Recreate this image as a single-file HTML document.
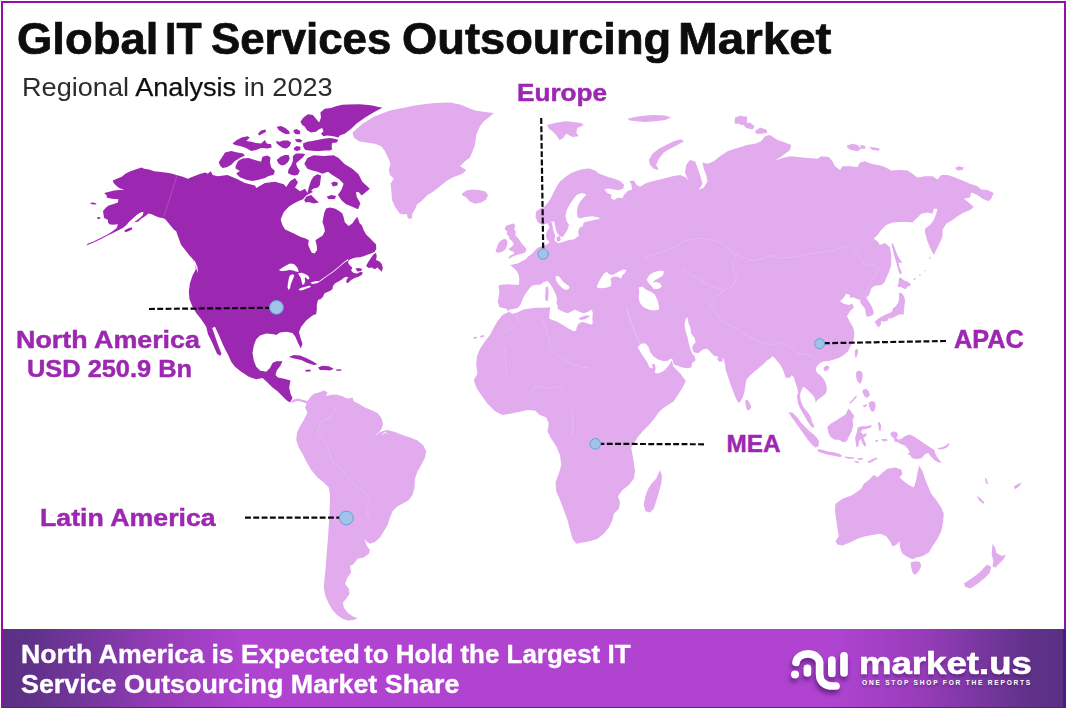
<!DOCTYPE html>
<html><head><meta charset="utf-8">
<style>
html,body{margin:0;padding:0;background:#fff;}
body{width:1068px;height:714px;position:relative;overflow:hidden;font-family:"Liberation Sans",sans-serif;}
.abs{position:absolute;white-space:nowrap;line-height:1;}
#frame{position:absolute;left:1px;top:1px;width:1060.6px;height:703.3px;border:2px solid #9211a5;}
#banner{position:absolute;left:3px;top:629px;width:1060.4px;height:78px;background:linear-gradient(90deg,#5a3084 0%,#5d3187 2%,#7a37a1 9%,#9a3dbc 16%,#b044d1 23%,#b044d1 78%,#9a3dbc 86%,#7a37a1 92%,#5d3187 97.5%,#5a3084 100%);}
.t{font-weight:bold;transform-origin:0 0;}
.ttl{-webkit-text-stroke:0.7px #0d0d0d;}
.lab{-webkit-text-stroke:0.45px #9c27b0;}
.bw,#b2{-webkit-text-stroke:0.35px #fff;}
#lg1{-webkit-text-stroke:0.6px #fff;}
.lab{color:#9c27b0;font-weight:bold;font-size:24px;}
</style></head><body>
<div id="frame"></div>
<div class="abs t ttl" id="tw0" style="left:16.9px;transform:scaleX(1.0420);top:17.5px;font-size:43.6px;color:#0d0d0d;">Global</div><div class="abs t ttl" id="tw1" style="left:164.5px;transform:scaleX(0.9444);top:17.5px;font-size:43.6px;color:#0d0d0d;">IT</div><div class="abs t ttl" id="tw2" style="left:211.4px;transform:scaleX(1.0056);top:17.5px;font-size:43.6px;color:#0d0d0d;">Services</div><div class="abs t ttl" id="tw3" style="left:401.5px;transform:scaleX(1.0392);top:17.5px;font-size:43.6px;color:#0d0d0d;">Outsourcing</div><div class="abs t ttl" id="tw4" style="left:678.4px;transform:scaleX(1.0920);top:17.5px;font-size:43.6px;color:#0d0d0d;">Market</div>
<div class="abs" id="sub" style="left:22px;top:74.5px;font-size:25.7px;color:#222;transform:scaleX(1.056);transform-origin:0 0;"><span style="color:#2c2c2c">Regional</span> <span style="color:#101010;-webkit-text-stroke:0.25px #101010">Analysis</span> <span style="color:#2c2c2c">in 2023</span></div>
<svg id="map" class="abs" style="left:0;top:0" width="1068" height="714" viewBox="0 0 1068 714">
<path fill="#e1abee" d="M352.5,132.5 362.5,123.8 375.0,116.2 390.0,110.5 405.0,107.5 417.5,105.0 435.0,103.0 450.0,102.5 460.0,104.5 467.5,107.5 475.0,110.5 485.0,112.0 493.8,113.0 488.8,117.5 483.8,121.2 480.0,126.2 476.2,135.0 475.0,145.0 472.5,151.2 470.0,157.5 465.0,161.2 460.0,166.2 466.2,170.0 462.5,173.8 452.5,177.5 446.2,181.2 440.0,186.2 433.8,191.2 427.5,195.0 422.5,200.0 420.0,202.2 417.0,204.5 415.5,208.5 412.5,213.5 411.8,218.8 408.8,218.8 407.5,217.5 407.0,214.0 403.8,214.5 399.8,213.5 395.2,207.2 392.0,200.0 391.5,192.5 390.5,183.8 393.8,178.8 390.0,175.0 388.8,170.0 390.5,163.8 388.0,157.5 385.0,151.2 381.2,146.2 375.0,143.8 366.2,142.5 358.8,141.2 353.8,137.5ZM462.0,193.8 466.2,190.5 472.5,189.5 478.8,190.0 485.0,191.2 488.0,195.0 486.2,199.5 481.2,202.5 475.0,203.8 469.5,201.2 466.2,197.5 462.0,195.0ZM291.2,401.2 293.8,399.5 297.5,398.5 302.5,399.8 307.5,401.0 310.0,397.5 313.8,393.8 318.8,392.5 323.8,390.5 327.5,392.5 326.2,396.2 330.0,395.0 336.2,394.5 342.5,396.2 347.5,398.8 352.5,397.5 353.8,401.2 358.8,403.8 365.0,407.5 371.2,410.0 377.5,413.0 381.2,417.5 383.0,423.8 382.0,428.0 379.5,432.0 383.8,430.8 387.5,430.0 395.0,432.0 402.5,435.0 410.0,437.5 417.5,440.5 423.0,445.0 426.2,451.2 425.0,457.5 421.2,465.0 417.5,471.2 415.0,478.8 414.5,487.5 412.5,495.0 408.8,500.0 403.8,503.0 397.5,506.2 392.5,511.2 390.0,517.5 387.5,525.0 383.8,531.2 380.0,537.5 375.0,542.0 370.0,543.8 366.2,541.2 364.5,537.5 366.2,545.0 370.0,550.0 368.8,553.8 363.8,557.5 357.5,558.8 353.8,563.8 350.0,566.2 351.2,572.5 347.5,577.5 345.0,583.8 348.8,588.8 349.5,593.8 346.2,598.8 343.0,602.5 343.8,607.5 347.5,612.5 352.5,616.2 357.5,618.0 353.8,620.0 347.5,620.5 342.5,618.8 337.0,615.0 332.5,610.0 328.8,603.8 325.5,596.2 323.8,587.5 324.5,578.8 325.5,570.0 326.2,560.0 327.0,550.0 328.0,537.5 328.8,525.0 329.5,512.5 330.0,500.0 330.0,495.0 328.8,487.5 323.8,482.5 317.5,477.5 311.2,470.0 306.2,461.2 302.5,453.8 298.8,447.5 296.2,440.0 297.0,432.5 300.0,426.2 303.8,420.0 307.5,412.5 305.0,407.5 306.8,403.8 302.5,402.0 297.5,400.8 293.8,402.0 292.0,403.0ZM508.2,311.4 506.5,308.7 502.0,307.8 499.4,306.9 497.6,301.6 498.5,298.0 499.4,291.8 498.5,285.6 501.1,284.7 507.4,284.2 513.6,284.7 518.9,284.7 519.3,279.5 518.8,275.5 517.3,272.0 515.3,269.5 512.7,266.9 510.2,264.9 513.2,264.4 517.3,263.4 519.8,262.4 522.3,260.9 525.3,259.4 528.4,256.3 531.4,254.3 534.4,251.3 536.9,248.3 540.0,246.8 543.0,245.3 545.5,245.3 548.0,243.7 549.5,242.2 548.0,240.7 546.5,238.2 546.0,234.7 547.0,231.1 548.5,229.1 549.5,227.1 547.6,223.2 542.3,224.9 537.8,222.3 535.5,216.9 536.0,211.6 539.6,208.9 544.9,206.3 548.5,201.8 551.2,197.4 553.8,192.0 556.5,186.7 560.1,181.3 565.4,176.9 570.7,173.3 577.0,170.7 583.2,168.9 589.4,168.5 595.6,170.7 598.3,173.3 602.8,175.1 608.1,176.9 614.3,178.7 620.5,181.3 624.1,184.9 623.2,188.5 618.8,190.2 613.4,189.4 608.1,188.5 604.5,189.4 607.2,192.9 611.6,194.7 610.8,198.2 614.3,200.0 617.9,197.4 622.3,198.2 624.1,194.7 627.7,191.1 632.1,189.4 631.2,184.0 629.4,181.3 633.9,180.5 636.6,184.9 640.1,186.7 646.3,183.1 652.6,181.3 659.7,179.6 666.8,177.8 672.5,176.2 680.0,175.0 686.2,177.5 688.8,181.2 685.0,172.5 686.2,165.0 690.0,160.0 695.0,161.2 697.5,167.5 700.0,175.0 702.5,183.8 698.8,190.0 703.8,187.5 707.5,181.2 706.2,175.0 703.8,168.8 702.5,162.5 707.5,163.8 713.8,161.2 720.0,156.2 727.5,151.2 735.0,148.8 747.0,145.0 755.0,143.8 761.2,141.2 765.0,136.2 770.0,135.0 777.5,140.0 785.0,142.5 791.2,145.0 790.0,150.0 785.0,153.8 780.0,157.5 775.0,160.5 782.5,158.0 790.0,156.2 797.5,157.0 807.5,158.0 817.5,158.8 821.2,156.2 828.8,157.0 832.5,161.2 835.0,166.2 840.0,170.0 842.5,166.2 850.0,166.2 857.5,167.0 860.0,162.5 865.0,161.2 871.2,163.8 880.0,165.5 885.0,167.0 891.2,170.5 900.0,170.0 907.5,170.5 912.5,173.8 917.5,177.5 925.0,176.2 932.5,176.2 937.5,179.5 941.2,175.0 947.5,175.0 955.0,177.5 962.5,180.5 970.0,183.8 977.5,186.2 981.2,189.5 987.5,190.0 993.8,193.0 991.2,198.8 988.8,201.2 982.5,198.8 977.5,195.0 971.2,192.5 970.0,197.5 963.8,198.8 968.8,202.5 973.8,207.0 970.0,210.0 963.8,212.5 957.5,216.2 952.5,220.0 946.2,223.8 942.5,230.0 942.5,236.2 940.0,242.5 936.2,250.0 933.8,255.0 930.0,247.5 927.0,240.0 925.0,232.5 925.0,228.8 930.0,225.0 933.8,220.0 936.2,213.8 937.5,208.8 933.8,208.8 932.5,213.8 927.5,212.5 921.2,213.8 916.2,218.8 912.5,222.5 907.5,222.0 900.0,222.0 892.5,222.5 886.2,225.0 881.2,230.0 877.5,235.0 873.8,238.8 877.5,241.2 880.0,245.0 885.0,243.0 890.0,247.5 891.2,255.0 891.2,265.0 888.8,272.5 886.2,278.0 884.3,282.4 881.2,284.9 877.4,285.5 874.3,286.1 871.2,288.6 870.0,292.4 868.7,295.5 866.2,297.3 868.7,301.7 871.2,305.4 873.1,309.8 873.7,314.2 870.6,316.0 866.8,316.7 865.6,312.9 865.0,308.6 862.5,305.4 860.6,303.0 860.0,299.8 857.5,299.2 855.0,298.0 852.5,297.3 850.0,298.0 850.0,295.0 846.2,293.8 843.8,297.5 840.0,301.2 843.8,303.8 848.8,305.0 852.5,303.8 853.8,307.5 850.0,311.2 847.0,316.2 849.5,321.2 852.5,326.2 854.5,332.5 853.8,338.8 851.2,345.0 848.0,351.2 843.8,355.0 838.8,358.0 832.5,360.0 827.5,361.2 823.8,361.2 820.0,363.1 816.9,366.2 815.6,369.4 816.9,372.5 820.0,375.0 822.5,377.5 825.0,381.2 826.2,385.0 826.9,389.4 825.6,393.8 822.5,396.2 820.0,398.1 817.5,400.0 815.6,402.5 815.0,398.8 813.1,395.6 810.6,393.1 808.1,390.6 805.6,388.1 803.1,386.9 801.9,389.4 800.6,392.5 800.0,396.2 800.6,400.0 801.9,403.8 803.8,407.5 806.9,411.2 809.4,414.4 811.2,418.1 811.9,421.9 813.8,425.0 814.4,427.5 812.5,427.5 810.0,425.0 807.5,421.2 805.0,416.9 802.5,412.5 800.0,408.1 798.1,403.8 797.5,400.0 796.9,396.2 798.1,392.5 797.5,388.8 796.2,385.0 795.0,381.2 793.8,377.5 791.9,375.0 790.6,376.9 788.1,378.1 785.6,377.5 784.4,373.8 783.1,370.0 781.2,366.2 778.8,363.1 776.2,360.0 774.4,357.5 772.5,356.2 770.0,358.8 766.9,360.6 763.8,363.8 760.0,366.9 755.2,371.1 749.9,375.6 746.3,380.0 745.4,385.4 744.5,391.6 742.8,396.9 741.0,400.5 738.8,403.2 736.5,399.6 733.9,393.4 731.2,386.3 728.5,378.2 725.9,370.2 724.1,363.1 725.9,371.0 725.0,363.9 723.2,357.6 722.3,361.2 719.6,362.1 717.0,358.9 718.7,356.7 714.3,355.9 710.7,352.3 707.2,348.7 702.7,349.6 698.3,353.2 693.8,352.3 692.1,348.7 692.9,345.2 695.6,342.5 694.7,338.1 691.2,333.6 690.3,327.4 688.5,322.9 687.6,317.6 685.8,318.5 684.4,324.7 685.5,330.9 687.6,337.2 688.5,342.5 690.3,348.7 692.1,353.2 694.7,356.7 695.6,360.3 692.1,363.0 691.2,367.4 687.6,368.3 682.3,367.4 676.9,365.6 673.4,363.9 672.5,359.4 670.7,358.5 668.0,360.7 663.6,361.2 658.2,359.4 653.8,356.7 650.2,352.3 648.5,347.0 645.8,343.4 641.3,343.4 637.8,347.0 640.5,352.3 644.0,357.6 647.6,363.0 649.4,367.4 652.9,368.3 652.0,363.9 654.7,363.9 655.6,368.3 654.7,372.8 658.2,373.6 663.6,371.0 667.1,367.4 669.8,363.9 671.6,360.3 673.4,366.7 680.5,373.8 685.8,380.9 682.3,388.0 677.8,395.2 673.4,401.4 668.0,404.9 662.7,408.5 658.2,412.9 653.8,419.2 648.5,425.4 643.1,430.7 637.8,437.0 631.2,447.5 632.5,455.0 633.8,462.5 635.0,471.2 633.8,478.8 628.8,485.0 622.5,490.0 618.0,496.2 620.0,502.5 618.8,508.8 613.8,513.8 612.5,520.0 608.8,527.5 603.8,533.8 597.5,538.8 590.0,541.2 582.5,542.5 576.2,543.8 572.5,538.8 570.0,530.0 567.5,520.0 563.8,510.0 560.0,500.0 556.2,491.2 555.5,482.5 558.8,473.8 561.2,465.0 560.0,455.0 556.2,446.2 551.2,438.8 547.5,431.2 548.8,423.8 546.2,417.5 540.0,415.0 535.0,410.5 527.5,410.0 518.8,412.0 510.0,413.8 502.5,415.0 495.0,411.2 487.5,403.8 481.2,395.0 476.2,387.5 473.8,380.0 477.5,373.8 476.2,365.0 477.0,356.2 480.0,348.8 485.0,341.2 490.0,335.0 493.8,327.5 497.5,321.2 502.5,315.0 507.5,312.5ZM504.7,228.1 506.7,225.6 509.7,224.6 513.7,223.6 515.3,225.6 514.2,229.1 515.8,232.1 515.3,235.2 518.3,238.2 520.8,242.2 523.3,245.3 525.8,248.3 526.3,250.3 524.8,252.8 521.3,253.8 517.3,254.8 513.2,256.3 509.7,258.4 508.2,257.9 510.7,255.3 514.2,253.8 513.7,251.8 510.2,250.8 508.7,248.8 511.7,246.8 513.7,244.2 512.2,241.2 509.7,239.2 508.7,236.2 506.7,234.2 507.2,231.1 505.2,230.1ZM495.6,250.8 497.1,247.3 498.1,243.7 500.6,240.7 504.2,238.7 506.7,239.7 507.7,242.7 506.7,246.3 505.2,249.8 502.1,251.8 498.6,252.8 496.1,252.3ZM547.0,125.0 555.0,123.0 565.0,121.2 573.8,122.0 581.2,123.0 583.8,125.0 577.5,128.0 576.2,132.5 578.8,136.2 572.5,137.0 566.2,133.8 562.5,138.8 559.5,140.0 556.2,135.0 552.5,131.2 548.8,128.8ZM627.5,118.8 635.0,117.0 645.0,115.5 655.0,115.0 665.0,115.5 671.2,117.5 665.0,120.0 655.0,121.2 645.0,122.0 636.2,121.2 630.0,120.5ZM648.8,160.0 652.5,153.8 658.8,148.8 666.2,145.0 673.8,141.2 681.2,139.2 683.8,141.2 677.5,145.0 670.0,148.8 663.8,152.5 658.8,158.8 656.2,165.0 658.8,170.0 653.8,168.8 650.0,165.0ZM735.0,117.5 741.2,115.5 746.2,118.8 743.8,122.5 737.5,123.8 735.0,123.8ZM742.5,123.8 750.0,122.5 754.5,126.2 752.5,129.5 746.2,128.0ZM755.0,131.2 760.0,127.5 766.2,129.5 767.5,132.5 761.2,133.8 756.2,133.8ZM733.8,121.2 740.0,117.0 747.0,116.2 747.0,123.8 741.2,125.0ZM847.0,145.5 852.5,143.8 857.5,145.0 861.2,148.8 857.5,151.2 851.2,150.0 847.5,148.0ZM860.0,145.0 865.0,145.8 865.5,148.8 861.2,148.8ZM868.8,147.0 875.0,147.5 880.0,148.8 878.8,150.8 872.5,150.0ZM955.0,168.0 958.8,166.2 963.8,167.5 962.5,170.0 957.5,170.5ZM891.8,242.5 893.6,245.0 895.5,250.0 897.4,255.0 899.9,259.3 902.4,263.1 900.5,263.1 898.6,261.8 899.3,266.8 901.1,270.5 901.7,273.7 899.9,274.3 898.6,271.2 897.4,266.8 896.1,261.8 894.3,256.2 893.0,250.6 891.8,246.2ZM899.3,277.4 901.1,278.0 904.2,280.5 908.0,281.8 911.1,284.3 909.9,286.1 907.4,286.7 905.5,289.2 903.0,288.0 900.5,286.7 898.6,287.4 897.4,285.5 898.6,283.0 898.9,279.9ZM899.3,292.6 902.1,293.6 904.2,296.7 905.1,301.1 904.4,306.1 903.9,311.1 903.6,314.8 901.1,314.2 898.6,314.8 894.9,316.7 891.1,318.3 887.4,318.8 883.7,320.4 879.9,322.3 876.8,324.0 874.3,322.3 876.8,319.8 880.5,317.3 884.9,314.8 889.9,312.9 892.4,311.1 893.0,307.9 895.5,306.7 898.0,303.0 899.3,298.6 898.9,295.5ZM929.8,257.2 931.0,257.7 929.8,258.9 928.8,258.4ZM924.8,269.9 925.8,270.4 924.8,271.4 924.1,270.9ZM919.8,274.3 921.1,274.9 919.8,275.9 919.0,275.1ZM914.8,278.0 916.1,278.6 914.6,280.1 913.6,279.3ZM876.2,320.5 880.0,319.5 881.2,323.8 878.8,327.5 876.2,325.0ZM882.5,319.2 888.0,318.0 888.0,320.5 883.0,321.8ZM823.8,367.5 826.2,365.6 828.8,366.2 829.4,368.1 827.5,370.6 825.0,371.2 823.5,369.8ZM854.8,350.6 856.5,348.8 858.1,350.0 857.5,354.4 856.0,358.1 854.8,355.6ZM856.2,371.9 859.4,370.6 861.9,371.9 862.8,375.6 861.9,380.0 860.6,383.8 858.8,383.1 856.9,380.0 856.0,376.2ZM862.5,390.0 866.2,388.8 868.8,391.2 870.0,395.0 867.5,398.1 864.4,396.2 862.8,393.1ZM849.4,403.1 852.5,399.4 856.2,395.6 856.9,396.9 853.1,401.0 850.2,404.0ZM788.4,411.9 792.6,412.7 796.9,416.9 801.1,422.8 805.3,427.0 809.5,431.2 813.7,434.6 817.1,438.0 819.1,441.4 818.4,446.4 815.4,447.6 812.0,444.7 807.8,439.7 803.6,433.8 799.4,427.9 795.2,422.0 791.5,416.9ZM827.2,427.0 830.6,423.7 836.5,420.3 841.5,416.9 845.7,414.4 848.3,408.5 850.8,411.0 852.5,413.5 854.2,416.1 852.5,420.3 853.3,425.3 851.6,431.2 849.1,436.3 846.6,441.4 843.2,442.2 839.0,439.7 834.8,439.7 830.6,437.1 828.5,432.9ZM857.5,427.9 860.9,426.2 866.0,426.2 871.9,425.0 871.0,427.4 866.8,428.7 862.6,429.6 860.6,432.1 863.4,434.6 866.8,432.9 866.0,436.3 863.4,438.0 865.1,442.2 866.3,445.6 864.3,446.4 862.3,443.0 860.6,438.8 858.9,441.4 858.4,446.4 856.2,446.9 855.8,442.2 855.0,438.0 856.7,432.9ZM817.4,449.3 822.1,449.8 828.0,451.5 833.9,452.3 839.8,454.0 842.4,456.0 839.8,457.0 833.9,455.7 828.0,454.8 822.1,453.1 817.9,451.5ZM844.9,456.5 849.9,457.0 854.2,457.4 853.8,458.7 849.1,458.7 845.4,458.0ZM857.5,458.2 862.6,457.7 862.9,459.4 858.4,459.9ZM867.6,461.6 872.7,459.0 876.9,457.4 877.4,458.7 873.5,461.1 869.0,463.3ZM854.2,460.7 858.4,461.6 859.2,463.3 855.8,462.8ZM877.8,422.8 879.4,422.0 881.1,425.3 880.8,430.4 879.4,431.2 878.6,427.0ZM875.2,440.2 877.8,439.7 878.1,441.4 875.7,441.9ZM881.1,439.2 886.2,438.8 887.9,440.5 883.7,441.4ZM890.4,432.9 893.8,431.2 897.1,432.4 898.0,435.5 896.3,437.5 898.0,439.7 901.4,438.8 904.7,436.3 909.8,434.6 914.8,437.1 919.9,440.5 925.0,443.9 930.0,447.3 934.2,449.8 935.1,453.1 936.8,456.5 939.3,459.9 941.8,462.4 938.4,462.4 934.2,459.9 930.9,456.5 928.3,453.1 925.0,454.0 921.6,458.2 916.5,459.0 912.3,458.2 909.8,454.8 907.3,454.8 909.8,452.3 908.1,448.9 904.7,445.6 900.5,443.9 898.0,442.2 894.6,441.4 893.8,438.0 891.2,436.3ZM937.6,448.1 941.8,447.6 946.0,445.6 948.5,443.0 949.4,444.7 946.9,447.6 942.6,449.3 938.4,449.3ZM868.5,402.6 871.9,400.9 875.2,402.6 875.7,406.8 874.4,411.0 871.9,411.9 870.2,409.3 869.0,406.0ZM862.6,406.0 866.0,404.3 867.6,405.5 864.3,407.6ZM835.5,503.8 842.5,498.8 852.5,495.0 861.2,488.8 863.8,483.8 868.8,480.0 873.8,475.0 877.5,477.5 882.5,472.5 887.5,468.8 895.0,467.5 901.2,469.5 902.5,473.8 899.5,477.5 903.8,481.2 908.8,485.0 913.8,487.5 916.2,480.0 917.5,472.5 919.2,465.5 922.5,471.2 925.0,478.8 928.0,486.2 931.2,493.8 936.2,500.0 941.2,507.5 943.8,513.8 943.0,522.5 941.2,531.2 937.5,538.8 932.5,546.2 928.8,552.5 922.5,556.2 916.2,557.5 912.5,559.2 907.5,557.0 902.5,553.8 900.0,547.5 899.5,541.2 896.2,545.0 892.5,546.2 890.0,541.2 886.2,536.2 880.0,533.8 872.5,535.0 865.0,536.2 857.5,538.8 850.0,542.5 842.5,545.5 837.5,544.5 835.5,541.2 838.8,536.2 837.5,528.8 836.2,520.0 835.0,511.2ZM910.5,562.5 915.0,561.2 920.0,562.0 921.2,566.2 918.8,571.2 915.0,575.0 912.5,572.5 911.2,567.5ZM992.5,543.7 995.2,547.7 996.5,553.0 1001.3,555.7 1005.8,554.9 1003.1,559.7 999.1,563.7 995.2,567.7 992.5,566.3 993.3,561.0 991.7,554.4ZM987.2,564.5 991.2,567.1 989.6,573.0 984.0,578.8 977.3,584.1 970.4,588.4 965.1,586.8 964.0,583.6 969.9,579.6 975.7,575.6 981.1,570.9 984.5,567.1ZM976.5,495.3 980.5,498.5 984.5,502.5 983.2,503.8 979.2,500.6ZM1013.8,486.5 1017.8,483.9 1021.8,482.6 1019.1,486.5 1015.1,489.2ZM985.3,477.2 986.9,479.4 988.0,483.9 986.4,483.9 985.3,480.4ZM473.2,337.5 476.2,336.5 477.1,337.9 474.3,339.0ZM479.8,336.1 483.9,335.0 484.6,336.5 480.7,337.5ZM745.4,400.5 747.2,399.6 749.9,403.2 751.3,406.7 749.9,409.7 747.2,410.3 746.0,406.7 745.4,403.2ZM643.8,505.0 645.0,497.5 647.5,490.0 651.2,483.8 656.2,478.8 660.0,470.0 662.0,476.2 661.2,483.8 658.8,492.5 656.2,501.2 653.8,508.8 650.0,512.5 645.5,511.2Z"/>
<path fill="#9c27b0" d="M112.9,180.6 116.7,178.7 121.7,176.8 125.4,173.7 130.4,171.2 135.4,169.4 141.6,167.5 144.1,168.7 149.1,169.4 154.1,171.2 159.1,171.8 165.3,172.5 171.5,173.5 177.2,175.2 182.8,176.8 187.8,178.7 192.7,176.8 199.0,174.3 205.2,172.5 207.7,173.7 210.8,171.2 212.7,175.0 217.7,176.2 227.5,175.0 237.5,179.2 245.0,183.0 255.0,185.5 256.2,188.0 265.0,183.0 275.0,181.8 283.8,184.2 286.2,187.0 290.0,181.2 295.0,178.0 298.0,182.5 295.0,187.5 300.0,191.2 305.0,188.8 307.5,193.0 308.7,187.4 311.1,180.5 313.6,176.4 317.4,174.3 321.1,175.6 320.5,180.5 319.9,184.9 318.0,187.4 313.6,188.4 311.1,190.5 313.0,192.1 309.9,193.6 306.2,195.5 303.0,199.3 298.7,201.1 293.7,203.4 288.7,206.7 283.7,212.3 281.2,218.0 280.7,219.8 282.5,225.2 285.1,229.6 289.6,231.4 294.9,234.0 300.2,236.7 305.6,238.5 308.8,240.3 308.2,244.7 310.0,249.2 311.8,252.7 314.5,253.6 317.1,250.1 316.6,244.7 315.4,240.3 318.0,238.5 322.5,235.8 324.8,231.4 324.3,226.9 322.5,222.5 323.4,217.1 324.3,212.7 326.1,208.6 329.9,207.6 334.8,208.6 339.2,211.1 342.3,213.6 343.6,217.3 344.8,222.3 348.6,226.1 352.3,223.6 354.8,219.8 357.3,216.7 359.8,223.4 361.7,225.0 363.6,230.0 366.1,234.4 369.8,238.1 372.9,241.2 376.0,244.3 376.3,248.7 374.8,251.8 371.0,253.4 367.3,254.7 363.6,256.2 359.8,257.2 356.1,257.4 352.3,258.4 349.2,259.9 348.0,262.4 349.9,265.5 352.3,267.4 351.1,270.5 353.6,273.0 357.3,273.6 360.4,271.8 362.9,272.4 361.7,274.9 358.6,276.7 354.8,278.0 351.1,279.9 348.0,283.0 346.1,282.4 346.7,279.2 348.6,277.4 346.1,276.7 343.6,278.0 341.1,279.9 338.0,281.7 334.9,283.6 333.0,286.1 332.4,289.2 329.9,291.1 326.8,292.3 324.3,293.6 323.0,296.7 320.5,299.2 318.1,299.8 316.8,304.8 316.8,309.8 316.2,314.0 312.5,315.5 306.2,320.5 301.2,326.8 299.0,332.0 300.5,338.0 302.5,343.8 300.8,348.5 298.0,343.0 295.5,337.0 292.5,333.0 286.2,331.8 280.0,332.5 276.2,335.0 273.8,334.2 266.2,333.5 260.0,335.5 256.2,339.2 253.8,345.5 252.5,353.0 253.8,360.5 256.2,366.8 260.0,370.5 266.2,371.8 270.0,368.0 272.5,363.0 276.2,361.2 282.5,361.2 280.5,365.5 276.8,370.5 275.5,375.0 278.0,377.5 284.2,378.8 290.5,380.5 289.2,387.5 290.5,393.8 292.5,398.0 290.0,402.5 286.2,400.0 282.5,396.2 277.5,391.2 272.5,387.5 267.5,382.5 262.5,378.0 256.2,379.2 248.8,376.8 241.2,371.8 235.0,366.8 231.2,361.8 228.5,355.5 225.5,350.0 222.5,343.8 218.8,335.0 215.0,326.8 212.2,328.0 214.2,333.8 216.5,340.5 219.0,347.5 221.5,353.8 220.0,355.8 217.0,353.8 214.0,346.8 211.2,340.5 208.0,334.2 206.2,326.8 201.2,319.2 196.2,313.0 192.5,306.8 189.5,299.2 188.8,291.8 190.0,283.0 192.5,275.5 195.8,269.2 193.8,261.8 191.2,255.5 187.5,248.0 185.0,240.0 198.0,273.0 197.5,267.5 195.0,261.2 190.0,256.2 186.2,251.2 181.2,245.0 178.8,238.8 176.2,231.2 174.0,229.8 170.9,226.1 167.8,222.3 165.3,219.2 162.8,218.0 159.1,217.4 155.3,216.1 151.6,214.2 148.5,213.6 145.4,216.1 141.6,218.6 137.9,221.7 134.1,222.3 136.6,220.5 140.4,217.4 142.9,214.9 143.5,211.7 140.4,212.4 136.6,214.9 132.9,218.6 129.1,221.7 126.7,224.8 122.9,228.0 117.9,230.4 112.9,232.9 106.7,236.1 100.5,239.2 94.2,242.3 88.0,244.8 86.1,245.8 88.0,243.5 93.0,241.7 98.0,239.2 103.0,236.7 108.0,234.2 112.9,231.1 116.7,228.0 117.9,224.2 112.9,224.8 109.2,224.2 108.0,222.3 108.0,219.9 104.2,218.0 103.6,214.9 103.0,211.1 105.5,208.0 108.6,205.5 112.9,204.3 117.9,202.4 118.5,199.3 111.7,198.7 106.7,197.4 106.7,195.5 104.2,193.0 109.2,191.8 114.2,190.5 119.2,189.9 124.2,189.9 119.2,188.1 116.1,185.6 113.6,183.1ZM124.2,230.4 127.9,228.6 131.6,227.3 132.3,229.2 129.1,231.1 125.4,232.3ZM89.9,203.0 93.0,202.4 96.7,203.6 95.5,204.6 91.7,204.3ZM96.7,217.6 99.8,217.1 100.5,218.6 98.0,219.2ZM218.7,162.3 221.9,157.4 225.0,152.4 231.2,151.1 237.4,152.4 243.1,153.6 244.9,155.5 239.9,158.0 235.0,161.1 231.2,164.8 226.8,167.3 222.5,168.0 220.0,165.5ZM235.6,166.1 238.1,161.1 242.4,158.6 248.7,158.0 254.9,159.9 261.1,161.7 262.4,156.7 267.4,155.5 270.5,157.4 269.9,162.3 271.1,167.3 274.9,171.1 273.6,174.8 268.6,176.1 264.9,177.9 258.6,179.8 252.4,181.0 246.2,179.8 239.9,177.3 236.2,173.6 239.9,171.1 235.6,168.6ZM232.5,143.6 236.8,139.9 241.8,137.4 247.4,136.2 249.9,137.4 246.2,141.1 251.2,141.8 256.1,143.0 261.1,143.6 264.9,139.9 266.7,143.6 271.1,144.3 271.7,147.4 267.4,148.6 261.1,148.0 256.1,149.9 251.2,151.1 246.2,148.0 239.9,146.1 235.0,144.9ZM258.0,133.7 261.1,130.5 265.5,129.6 266.1,131.8 262.4,133.7 259.3,135.5ZM276.7,126.8 281.1,125.9 285.4,128.1 289.2,131.2 289.8,133.7 286.1,134.3 282.3,132.4 278.6,129.9ZM293.6,129.9 296.7,128.9 300.4,131.2 299.8,134.3 296.0,134.3 293.8,132.4ZM276.1,141.1 279.8,141.8 283.0,140.5 287.9,140.5 291.1,142.4 289.8,146.1 286.7,148.6 283.0,148.0 279.8,146.1 276.7,143.6ZM294.8,139.3 299.8,138.9 302.3,140.5 301.0,142.4 296.7,142.1ZM293.8,148.0 296.7,145.9 300.4,146.8 300.4,149.9 296.7,150.9 294.2,149.9ZM300.4,121.8 303.5,117.5 307.9,114.3 312.9,115.0 316.0,118.7 319.1,122.4 321.0,117.5 320.4,112.5 324.7,108.7 331.0,108.1 335.9,106.2 342.2,104.7 348.0,104.4 360.1,104.3 370.8,105.3 382.4,107.8 374.3,111.9 365.5,117.2 356.6,123.5 351.2,128.8 344.7,133.7 339.7,135.5 338.4,137.4 333.5,136.2 327.2,135.5 323.5,136.2 321.0,133.7 323.5,131.2 322.2,128.1 319.1,129.3 316.0,131.8 311.0,132.4 307.3,130.5 304.8,126.8 302.3,124.9ZM302.9,143.6 307.3,141.8 312.3,141.1 317.2,139.9 323.5,138.7 329.7,138.0 334.7,138.7 338.4,139.9 336.6,142.4 332.2,143.0 331.6,146.1 332.2,149.3 329.7,150.5 324.7,150.5 319.7,151.1 314.8,151.1 309.8,150.5 305.4,149.9 303.5,147.4ZM276.7,159.9 280.5,156.7 284.8,154.9 288.6,154.9 289.8,158.6 287.9,162.3 284.8,164.8 281.7,165.5 278.6,163.6ZM292.9,156.1 296.0,153.6 302.3,153.4 305.4,154.2 302.3,158.0 298.5,161.1 296.0,163.6 297.3,167.3 299.8,171.1 297.9,174.8 294.8,175.4 291.1,174.8 287.9,172.9 288.6,169.2 291.1,165.5 292.9,161.1ZM304.3,163.7 307.4,158.1 313.6,155.2 323.6,156.0 333.6,155.2 338.6,158.1 344.8,164.3 352.3,168.7 358.5,174.3 362.3,181.8 369.8,188.7 364.8,193.0 361.6,195.5 359.2,192.4 356.0,191.8 356.7,196.8 360.4,203.6 357.9,209.2 352.3,206.7 346.1,204.2 341.7,200.5 338.0,194.9 341.7,189.3 343.6,183.7 339.2,179.3 332.3,174.9 328.0,171.8 322.4,173.7 317.4,171.8 312.4,170.6 307.4,168.7ZM331.1,183.0 334.2,181.4 338.0,182.7 337.3,185.5 333.0,186.4ZM326.7,196.8 331.1,195.1 336.1,196.1 334.8,198.9 328.6,199.3ZM306.4,196.6 311.1,195.1 316.1,199.9 318.9,202.4 313.6,203.4 308.7,202.1 305.4,202.4 304.2,199.9ZM366.1,266.1 367.9,262.4 370.4,258.7 372.9,254.9 376.0,252.7 376.7,256.2 376.0,259.9 379.2,261.2 381.6,263.7 382.9,268.0 381.6,271.8 379.2,269.3 377.3,267.4 374.8,269.3 371.7,267.4 368.6,268.0ZM355.5,268.6 358.6,268.0 362.3,268.9 361.1,270.9 357.3,271.4ZM288.8,357.0 293.8,355.0 300.0,355.5 306.2,358.0 312.5,361.2 317.5,364.2 313.8,365.0 307.5,363.0 301.2,360.0 295.0,358.8ZM318.0,367.5 322.5,365.8 328.8,366.2 333.8,368.8 330.0,370.5 325.0,370.0 320.0,370.0ZM305.0,370.0 310.0,369.5 311.2,371.2 306.2,371.8ZM336.2,369.5 341.2,369.2 341.2,370.8 336.2,370.8Z"/>
<path fill="#fff" d="M278.9,270.0 282.2,267.7 286.4,265.3 290.1,263.4 293.9,263.9 296.2,266.3 298.1,269.1 298.6,271.9 295.8,271.4 293.0,270.5 290.1,270.0 286.9,270.5 283.6,270.9 280.8,271.1ZM290.1,275.2 292.5,274.2 294.4,275.2 293.4,278.0 292.0,281.3 290.6,285.0 290.1,288.3 288.7,289.9 287.5,287.8 287.8,284.1 288.5,280.3 289.2,277.0ZM298.1,273.3 301.4,272.8 304.7,273.8 307.5,275.2 309.4,277.5 308.9,279.4 307.0,278.9 305.6,277.0 304.7,278.5 305.2,281.3 304.2,284.1 302.8,285.0 301.9,283.1 301.4,280.3 300.6,277.5 299.1,275.6ZM298.6,289.2 301.4,287.8 305.2,286.7 308.9,285.8 311.2,286.0 309.8,287.4 306.6,288.6 303.3,289.9 300.0,290.6ZM310.3,282.7 313.1,281.7 316.4,281.1 318.8,281.3 318.3,283.0 315.5,283.6 312.2,283.9ZM318.6,281.5 323.0,278.3 327.7,275.0 332.4,271.7 337.0,267.9 340.8,264.7 344.6,261.4 347.8,259.2 348.8,260.2 345.3,262.1 341.4,265.3 337.6,268.6 332.8,272.4 328.1,275.6 323.4,278.9 318.9,282.2ZM508.2,311.4 512.7,313.7 518.0,312.3 523.4,309.6 529.6,308.4 535.8,307.8 542.9,307.8 550.1,307.3 553.6,306.6 556.3,303.4 557.2,298.9 555.4,293.6 552.7,288.2 550.1,283.8 547.4,281.1 543.8,282.0 540.3,284.7 535.8,284.7 532.3,285.6 529.6,288.2 526.9,291.8 524.3,295.4 522.5,299.8 520.7,304.3 518.0,307.8 513.6,309.1 509.1,309.6ZM555.4,276.7 558.1,275.8 560.7,278.5 563.4,282.0 567.0,284.7 569.6,286.5 568.7,289.1 566.1,290.0 562.5,288.2 559.0,284.7 556.3,281.1ZM549.2,316.7 549.7,311.4 550.4,307.3 553.6,306.2 556.5,303.4 557.9,306.0 557.5,308.7 560.7,310.5 564.3,312.3 567.8,313.2 571.4,311.4 575.0,309.6 578.5,311.4 583.9,313.2 588.3,311.4 591.9,309.6 592.8,313.2 592.4,318.5 592.8,322.9 591.0,324.7 586.5,322.9 582.1,322.1 578.5,323.8 576.7,327.4 575.9,330.9 573.2,330.9 569.6,329.2 565.2,326.5 560.7,323.8 556.3,321.2 551.8,319.7 549.2,318.5ZM596.7,287.4 598.1,282.9 600.8,278.5 603.4,274.0 607.0,271.7 608.8,274.0 612.3,274.9 617.7,272.2 623.0,269.6 626.6,269.9 624.8,273.1 622.1,275.8 621.2,278.5 617.7,276.7 613.2,276.7 610.5,278.5 611.4,282.9 610.5,286.5 606.1,287.7 600.8,288.2ZM646.7,279.4 649.4,274.9 653.8,272.2 660.0,270.5 664.1,271.3 662.7,275.8 658.2,278.5 654.7,280.2 652.9,282.9 655.6,282.0 660.0,282.9 661.8,286.5 658.2,289.1 653.8,289.1 651.1,285.6 648.5,282.9ZM638.7,287.4 642.2,286.5 646.7,290.0 651.1,291.8 654.7,294.5 657.4,299.8 658.8,305.2 659.1,309.6 653.8,310.5 648.5,309.6 643.1,306.9 639.6,302.5 638.7,297.1 639.2,291.8ZM551.2,221.4 552.6,225.8 553.5,231.2 555.3,235.6 554.4,240.4 558.3,243.3 563.6,241.8 569.0,240.1 574.3,239.2 578.7,236.1 578.2,231.2 579.6,227.6 582.8,226.2 583.7,222.6 586.7,221.7 593.9,220.0 599.2,219.1 599.2,217.6 592.1,216.2 585.0,216.9 580.5,218.4 577.5,216.9 577.0,211.6 577.8,206.3 580.5,200.9 584.6,196.5 586.4,194.3 581.4,193.1 576.6,195.0 572.9,199.7 569.3,205.0 566.5,210.7 565.4,216.0 566.8,221.4 569.0,224.9 567.5,229.7 565.0,233.8 562.7,236.9 559.7,236.1 557.6,233.8 556.0,229.9 555.1,225.8 554.2,221.4Z"/>
<path fill="#e1abee" d="M545.6,287.4 547.9,286.5 548.6,291.8 548.3,297.1 547.9,300.7 545.6,300.7 545.1,296.3 545.6,291.8ZM578.5,318.5 582.1,316.7 586.5,315.5 590.1,315.8 587.4,318.0 583.9,319.4 580.3,319.7ZM556.5,236.9 559.7,236.1 560.9,239.2 559.2,241.8 556.9,240.9Z"/>
<polyline points="542.1,318.1 544.9,325.6 548.7,336.8 550.5,348.1 556.1,354.6 563.6,359.3 571.1,363.1 580.5,366.8 588.9,367.7" fill="none" stroke="#e9c3f3" stroke-width="0.6" stroke-linejoin="round"/>
<polyline points="626.4,307.8 629.2,316.2 632.0,325.6 635.7,333.1 638.5,340.6 639.5,344.3" fill="none" stroke="#e9c3f3" stroke-width="0.9" stroke-linejoin="round"/>
<polyline points="531.8,393.0 533.7,387.4 541.2,386.5 548.7,388.3 556.1,386.5 561.8,389.3 562.7,394.9" fill="none" stroke="#e9c3f3" stroke-width="0.6" stroke-linejoin="round"/>
<polyline points="504.6,348.1 505.6,361.2 506.5,372.4" fill="none" stroke="#e9c3f3" stroke-width="0.6" stroke-linejoin="round"/>
<polyline points="516.8,314.4 517.8,321.9 509.3,329.3 503.7,333.1" fill="none" stroke="#e9c3f3" stroke-width="0.6" stroke-linejoin="round"/>
<polyline points="572.1,413.6 573.0,424.9 572.1,436.1" fill="none" stroke="#e9c3f3" stroke-width="0.6" stroke-linejoin="round"/>
<polyline points="644.2,260.9 645.6,256.7 656.9,253.9 668.1,249.7 679.3,245.4 682.1,241.2 700.4,237.9 721.5,242.6 735.5,253.9 752.4,260.9 763.6,258.1 772.0,255.3 780.4,258.1 797.3,256.7 808.5,253.9 819.8,252.5 836.6,249.7 849.3,245.4 857.7,253.9 861.9,260.9 864.7,265.1 873.1,265.1 878.8,267.9 876.0,274.9 870.3,282.0 864.7,297.4" fill="none" stroke="#e9c3f3" stroke-width="0.6" stroke-linejoin="round"/>
<polyline points="735.5,253.9 732.7,266.5 736.9,277.8 732.7,286.2 724.3,290.4 715.8,296.0 710.2,304.4 717.2,314.3 724.3,322.7 735.5,328.3 746.7,335.3 758.0,341.0 769.2,345.2 780.4,342.4 791.7,348.0 797.3,353.6 808.5,355.0 817.0,359.2" fill="none" stroke="#e9c3f3" stroke-width="0.6" stroke-linejoin="round"/>
<polyline points="682.1,269.3 696.2,277.8 710.2,286.2 724.3,290.4" fill="none" stroke="#e9c3f3" stroke-width="0.6" stroke-linejoin="round"/>
<polyline points="336.2,407.5 330.0,417.5 320.0,422.5 317.5,432.5 323.8,440.0 328.8,450.0 332.5,462.5 342.5,470.0 350.0,480.0 357.5,487.5 365.0,492.5 370.0,500.0 366.2,510.0 370.0,520.0" fill="none" stroke="#e9c3f3" stroke-width="0.6" stroke-linejoin="round"/>
<polyline points="376.2,435.0 380.0,431.5 383.8,429.0" fill="none" stroke="#fff" stroke-width="0.8" stroke-linejoin="round"/>
<polyline points="381.8,435.0 385.0,432.2 387.5,433.8" fill="none" stroke="#fff" stroke-width="0.8" stroke-linejoin="round"/>
<line x1="177.2" y1="175.2" x2="163.8" y2="216.7" stroke="#b868c8" stroke-width="0.6"/>
<line x1="149" y1="309" x2="269" y2="307.8" stroke="#0a0a0a" stroke-width="2.2" stroke-dasharray="5.9 2.4"/>
<circle cx="276.5" cy="307.4" r="6.9" fill="#9fc4e7" stroke="#62a0dc" stroke-width="1"/>
<line x1="245" y1="517.6" x2="340" y2="517.6" stroke="#0a0a0a" stroke-width="2.2" stroke-dasharray="5.9 2.4"/>
<circle cx="346.4" cy="518" r="6.9" fill="#9fc4e7" stroke="#62a0dc" stroke-width="1"/>
<line x1="541.2" y1="118" x2="543.2" y2="249" stroke="#0a0a0a" stroke-width="2.2" stroke-dasharray="5.9 2.4"/>
<circle cx="543.2" cy="254" r="5.2" fill="#9fc4e7" stroke="#62a0dc" stroke-width="1"/>
<line x1="946" y1="341" x2="824" y2="343.2" stroke="#0a0a0a" stroke-width="2.2" stroke-dasharray="5.9 2.4"/>
<circle cx="819.6" cy="343.7" r="5.0" fill="#9fc4e7" stroke="#62a0dc" stroke-width="1"/>
<line x1="704" y1="444.3" x2="601" y2="443.8" stroke="#0a0a0a" stroke-width="2.2" stroke-dasharray="5.9 2.4"/>
<circle cx="595.3" cy="443.8" r="5.3" fill="#9fc4e7" stroke="#62a0dc" stroke-width="1"/>
</svg>
<div class="abs lab" id="l_eu" style="left:517px;top:80.5px;font-size:24.7px;transform:scaleX(1.059);transform-origin:0 0;">Europe</div>
<div class="abs lab" id="l_na1" style="left:15.5px;top:327.5px;font-size:24.7px;transform:scaleX(1.087);transform-origin:0 0;">North America</div>
<div class="abs lab" id="l_na2" style="left:27px;top:357px;font-size:24.7px;transform:scaleX(1.028);transform-origin:0 0;">USD 250.9 Bn</div>
<div class="abs lab" id="l_la" style="left:39.5px;top:505.5px;font-size:24.7px;transform:scaleX(1.082);transform-origin:0 0;">Latin America</div>
<div class="abs lab" id="l_apac" style="left:954px;top:327px;font-size:25px;transform:scaleX(1.01);transform-origin:0 0;">APAC</div>
<div class="abs lab" id="l_mea" style="left:726.5px;top:431.7px;font-size:24.3px;transform:scaleX(1.0);transform-origin:0 0;">MEA</div>
<div id="banner"></div>
<div class="abs" id="bedge" style="left:1063.2px;top:629px;width:2.5px;height:79.2px;background:#4a1a82;"></div>
<div class="abs" id="bedge2" style="left:3px;top:706.9px;width:1062px;height:1.3px;background:#571c8e;"></div>
<div class="abs t bw" id="b1a" style="left:20.6px;transform:scaleX(1.0681);top:641.5px;font-size:25px;color:#fff;">North America is Expected</div><div class="abs t bw" id="b1b" style="left:363.5px;transform:scaleX(1.0371);top:641.5px;font-size:25px;color:#fff;">to Hold the Largest IT</div>
<div class="abs t" id="b2" style="left:21px;top:671.5px;font-size:25px;color:#fff;transform:scaleX(1.073);">Service Outsourcing Market Share</div>
<svg class="abs" id="logo" style="left:0;top:0;filter:drop-shadow(-1px 4px 2.5px rgba(70,20,105,.7));" width="1068" height="714" viewBox="0 0 1068 714">
<g fill="none" stroke="#fff" stroke-width="7.7" stroke-linecap="round">
<path d="M796,662.5 A11.8,9.3 0 0 1 819.6,664 L819.6,674 C819.6,682 825,686 833,686 L836,686"/>
<line x1="807.4" y1="668.4" x2="807.4" y2="673"/>
<line x1="831.8" y1="660" x2="831.8" y2="673.5"/>
<line x1="844" y1="655.8" x2="844" y2="673"/>
</g>
<circle cx="795" cy="674.5" r="4" fill="#fff"/>
</svg>
<div class="abs t" id="lg1" style="left:859.3px;top:648px;font-size:31px;color:#fff;transform:scaleX(1.18);text-shadow:0 3px 3px rgba(70,25,105,.55);">market.us</div>
<div class="abs t" id="lg2" style="left:862px;top:679.6px;font-size:6.6px;color:#fff;letter-spacing:1.77px;text-shadow:0 2px 2px rgba(70,25,105,.5);">ONE STOP SHOP FOR THE REPORTS</div>
</body></html>
